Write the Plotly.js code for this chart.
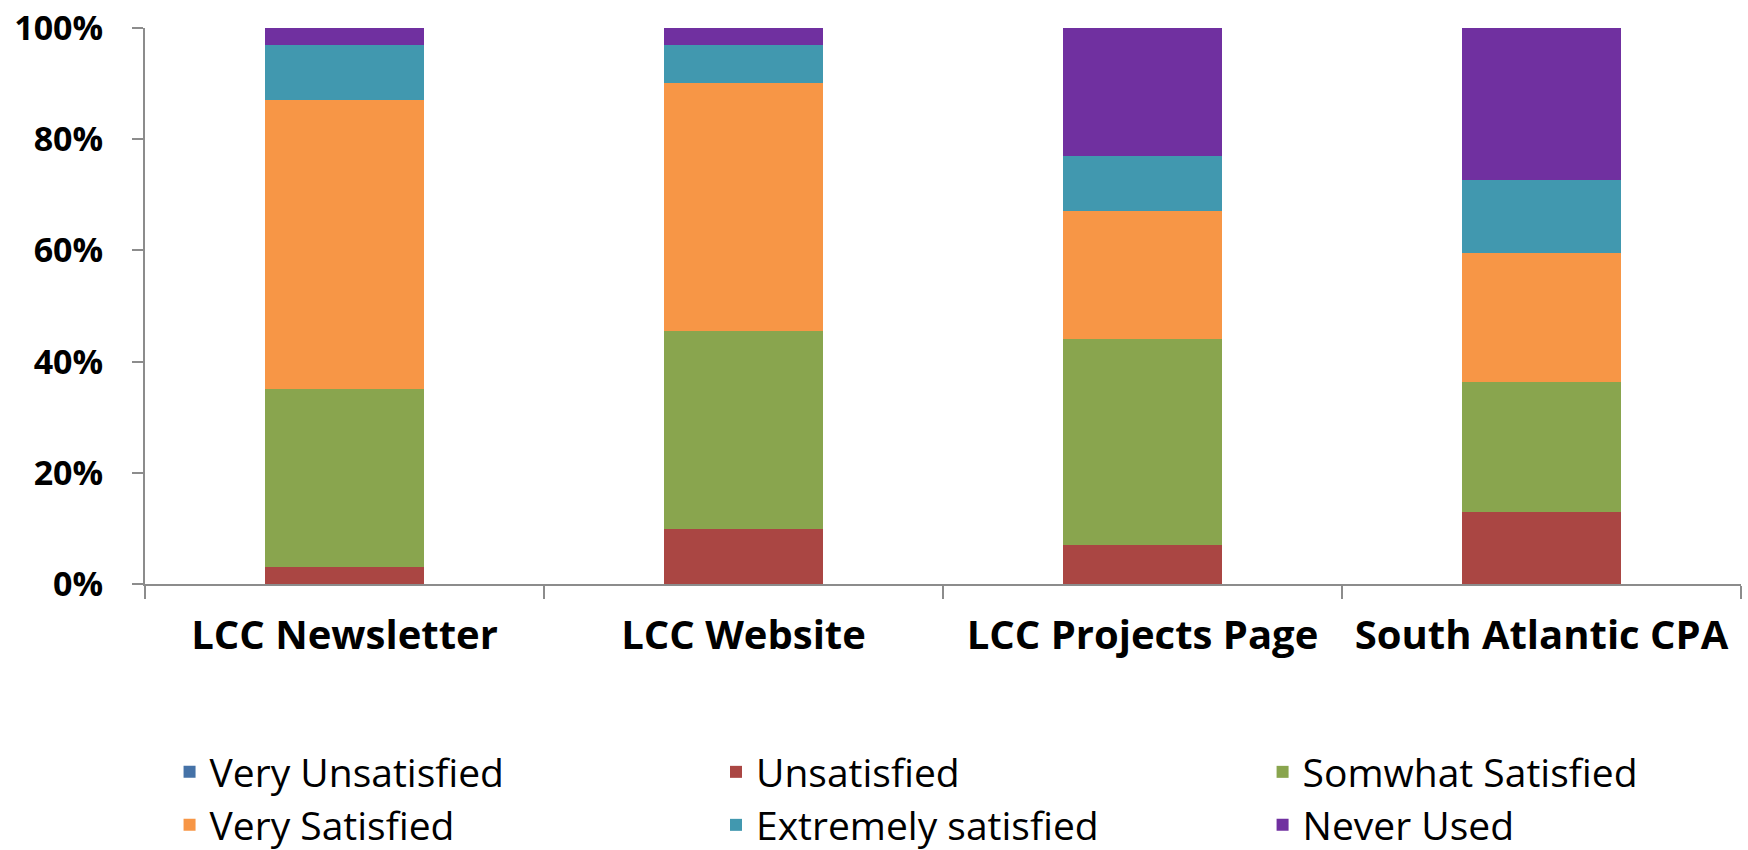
<!DOCTYPE html>
<html>
<head>
<meta charset="utf-8">
<script src="https://cdn.plot.ly/plotly-3.0.1.min.js"></script>
<style>html,body{margin:0;padding:0;background:#fff;}#chart{width:1748px;height:850px;}</style>
</head>
<body>
<div id="chart"></div>
<script>
const categories = ["LCC Newsletter", "LCC Website", "LCC Projects Page", "South Atlantic CPA"];
const veryUnsatisfied = [0, 0, 0, 0];
const unsatisfied = [3, 9.9, 7, 13];
const somewhatSatisfied = [32, 35.6, 37, 23.3];
const verySatisfied = [52, 44.6, 23, 23.3];
const extremelySatisfied = [10, 6.9, 10, 13.1];
const neverUsed = [3, 3, 23, 27.3];
const yTickVals = [0, 20, 40, 60, 80, 100];
const yTickText = ["0%", "20%", "40%", "60%", "80%", "100%"];

const seriesNames = ["Very Unsatisfied", "Unsatisfied", "Somwhat Satisfied", "Very Satisfied", "Extremely satisfied", "Never Used"];
const seriesValues = [veryUnsatisfied, unsatisfied, somewhatSatisfied, verySatisfied, extremelySatisfied, neverUsed];
const colors = ["#4572A7", "#AA4643", "#89A54E", "#F79646", "#4198AF", "#7030A0"];
const legendIds = ["legend", "legend2", "legend3", "legend4", "legend5", "legend6"];

const traces = seriesNames.map((name, i) => ({
  type: "bar",
  name: name,
  x: categories,
  y: seriesValues[i],
  marker: {color: colors[i], line: {width: 0}},
  width: 0.4,
  legend: legendIds[i],
  hoverinfo: "x+y+name"
}));

const legendBase = {
  xref: "container", yref: "container",
  yanchor: "middle", xanchor: "left",
  orientation: "h",
  font: {family: "Open Sans, sans-serif", size: 39, color: "#000"},
  bgcolor: "rgba(0,0,0,0)",
  borderwidth: 0
};
const colX = [0.097, 0.4096, 0.7223];
const rowY = [1 - 772 / 850, 1 - 825 / 850];

const layout = {
  width: 1748, height: 850,
  margin: {l: 145, r: 7, t: 28, b: 266, pad: 0},
  paper_bgcolor: "#fff", plot_bgcolor: "#fff",
  barmode: "stack",
  showlegend: true,
  font: {family: "Open Sans, sans-serif", color: "#000"},
  xaxis: {
    type: "category",
    tickson: "boundaries",
    ticks: "outside", ticklen: 13, tickwidth: 2, tickcolor: "#8c8c8c",
    showline: true, linecolor: "#8c8c8c", linewidth: 2,
    showgrid: false, zeroline: false,
    tickangle: 0,
    ticklabelstandoff: 15,
    tickfont: {family: "Open Sans, sans-serif", size: 40, color: "#000", weight: "bold"}
  },
  yaxis: {
    range: [0, 100],
    tickvals: yTickVals, ticktext: yTickText,
    ticks: "outside", ticklen: 11, tickwidth: 2, tickcolor: "#8c8c8c",
    showline: true, linecolor: "#8c8c8c", linewidth: 2,
    showgrid: false, zeroline: false,
    ticklabelstandoff: 22,
    tickfont: {family: "Open Sans, sans-serif", size: 34, color: "#000", weight: "bold"}
  }
};
legendIds.forEach((id, i) => {
  layout[id] = Object.assign({}, legendBase, {x: colX[i % 3], y: rowY[Math.floor(i / 3)]});
});

Plotly.newPlot("chart", traces, layout, {displayModeBar: false, staticPlot: true});
</script>
</body>
</html>
